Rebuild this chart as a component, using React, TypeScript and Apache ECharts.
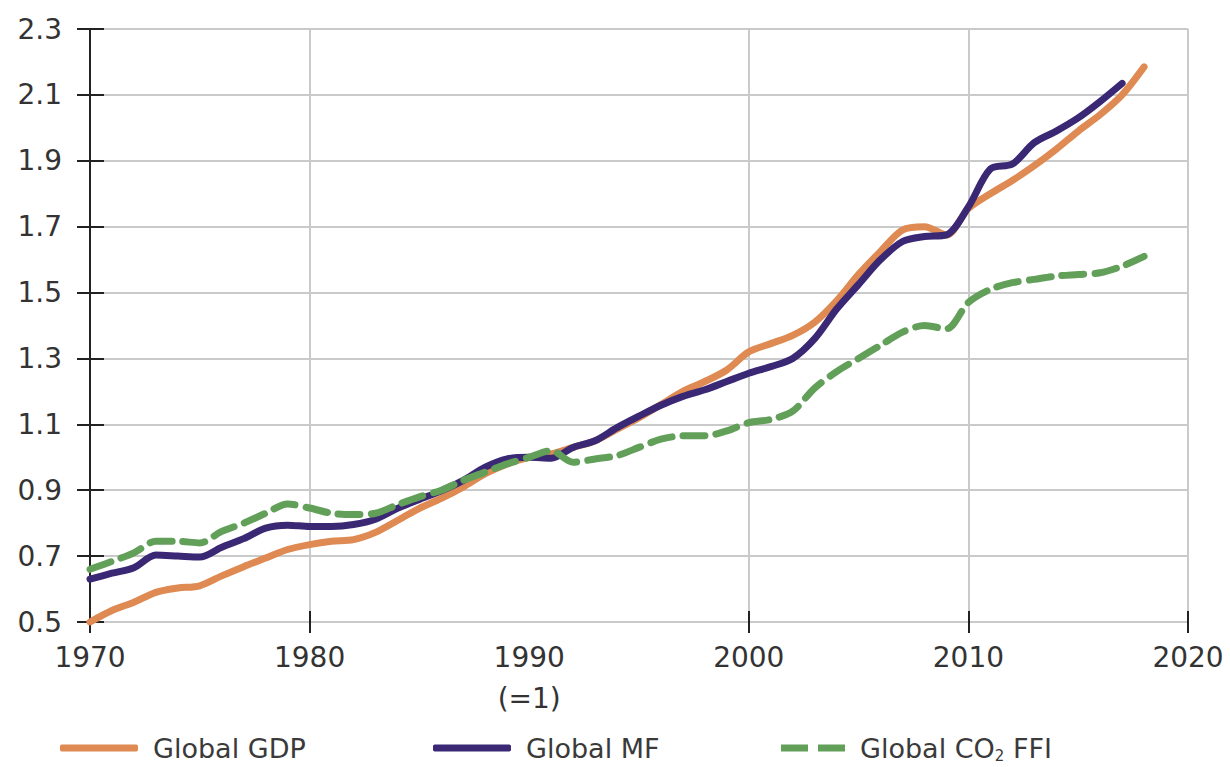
import React, { useEffect, useRef } from "react";
import * as echarts from "echarts";

const years: number[] = [
  1970, 1971, 1972, 1973, 1974, 1975, 1976, 1977, 1978, 1979,
  1980, 1981, 1982, 1983, 1984, 1985, 1986, 1987, 1988, 1989,
  1990, 1991, 1992, 1993, 1994, 1995, 1996, 1997, 1998, 1999,
  2000, 2001, 2002, 2003, 2004, 2005, 2006, 2007, 2008, 2009,
  2010, 2011, 2012, 2013, 2014, 2015, 2016, 2017, 2018,
];

const gdp: number[] = [
  0.5, 0.535, 0.56, 0.59, 0.603, 0.61, 0.64, 0.668, 0.694, 0.72,
  0.735, 0.745, 0.75, 0.772, 0.808, 0.845, 0.875, 0.91, 0.95, 0.98,
  1.0, 1.01, 1.03, 1.05, 1.085, 1.12, 1.16, 1.2, 1.23, 1.265,
  1.32, 1.345, 1.37, 1.41, 1.475, 1.555, 1.625, 1.69, 1.7, 1.675,
  1.755, 1.8, 1.84, 1.885, 1.935, 1.99, 2.04, 2.1, 2.185,
];

const mf: number[] = [
  0.63, 0.648, 0.665, 0.703, 0.7, 0.697, 0.727, 0.753, 0.785, 0.794,
  0.79, 0.79, 0.796, 0.812, 0.845, 0.872, 0.898, 0.93, 0.97, 0.995,
  1.0, 0.997, 1.03, 1.05, 1.09, 1.125, 1.158, 1.185, 1.205, 1.23,
  1.255, 1.275, 1.3, 1.36, 1.45, 1.525, 1.6, 1.655, 1.67, 1.675,
  1.76, 1.875, 1.89, 1.955, 1.99, 2.03, 2.08, 2.135,
];

const co2: number[] = [
  0.66, 0.684, 0.71, 0.745, 0.745, 0.74, 0.775, 0.8, 0.83, 0.858,
  0.846, 0.83, 0.826, 0.83, 0.856, 0.88, 0.9, 0.93, 0.955, 0.98,
  1.0, 1.02, 0.985, 0.995, 1.005, 1.03, 1.055, 1.065, 1.065, 1.08,
  1.105, 1.115, 1.14, 1.21, 1.26, 1.3, 1.34, 1.38, 1.4, 1.39,
  1.47, 1.51, 1.53, 1.54, 1.55, 1.555, 1.56, 1.58, 1.61,
];

const seriesNames: string[] = ["Global GDP", "Global MF", "Global CO2 FFI"];
const xTickValues: number[] = [1970, 1980, 2000, 2010, 2020];

const pairs = (vals: number[]) => vals.map((v, i) => [years[i], v]);

const COLORS = { gdp: "#de8a52", mf: "#3b2874", co2: "#62a05a" };

export default function App() {
  const ref = useRef<HTMLDivElement>(null);
  useEffect(() => {
    if (!ref.current) return;
    const chart = echarts.init(ref.current, null, { renderer: "svg" });
    const font = "'DejaVu Sans', Verdana, sans-serif";
    const gridColor = "#cacaca";
    const legendText = {
      fontFamily: font,
      fontSize: 27,
      lineHeight: 30,
      color: "#3a3a3a",
      padding: [0, 0, 0, 10],
      rich: {
        sub: {
          fontFamily: font,
          fontSize: 15,
          lineHeight: 30,
          color: "#3a3a3a",
          verticalAlign: "bottom",
          padding: [14, 0, 0, 0],
        },
      },
    };
    const legendFormatter = (name: string) =>
      name === "Global CO2 FFI" ? "Global CO{sub|2} FFI" : name;
    const mkLegend = (name: string, left: number, icon: string, w: number) => ({
      data: [{ name, icon }],
      left,
      top: 733,
      padding: 0,
      itemWidth: w,
      itemHeight: 7,
      itemStyle: { borderWidth: 0 },
      textStyle: legendText,
      formatter: legendFormatter,
    });
    const dashIcon = "path://M0,0 H27 V7 H0 Z M37,0 H64 V7 H37 Z";
    chart.setOption({
      animation: false,
      backgroundColor: "#ffffff",
      grid: { left: 90, right: 42, top: 29, bottom: 145, containLabel: false },
      legend: [
        mkLegend(seriesNames[0], 60, "roundRect", 78),
        mkLegend(seriesNames[1], 433, "roundRect", 78),
        mkLegend(seriesNames[2], 781, dashIcon, 64),
      ],
      xAxis: [
        {
          type: "value",
          min: 1970,
          max: 2020,
          interval: 10,
          axisLine: { show: true, onZero: false, lineStyle: { color: gridColor, width: 2 } },
          axisTick: {
            show: true,
            length: 11,
            customValues: xTickValues,
            lineStyle: { color: "#222", width: 2 },
          },
          axisLabel: {
            show: true,
            margin: 15,
            fontFamily: font,
            fontSize: 28,
            color: "#333",
            lineHeight: 41,
            verticalAlign: "top",
            formatter: (v: number) => (v === 1990 ? "1990\n(=1)" : String(v)),
          },
          splitLine: { show: true, lineStyle: { color: gridColor, width: 2 } },
        },
        {
          type: "value",
          min: 1970,
          max: 2020,
          interval: 10,
          position: "bottom",
          axisLine: { show: false },
          axisTick: {
            show: true,
            inside: true,
            length: 11,
            customValues: xTickValues,
            lineStyle: { color: "#222", width: 2 },
          },
          axisLabel: { show: false },
          splitLine: { show: false },
        },
      ],
      yAxis: [
        {
          type: "value",
          min: 0.5,
          max: 2.3,
          interval: 0.2,
          axisLine: { show: true, onZero: false, lineStyle: { color: "#222", width: 2 } },
          axisTick: { show: true, length: 13, lineStyle: { color: "#222", width: 2 } },
          axisLabel: {
            margin: 28,
            fontFamily: font,
            fontSize: 28,
            color: "#333",
            formatter: (v: number) => v.toFixed(1),
          },
          splitLine: { show: true, lineStyle: { color: gridColor, width: 2 } },
        },
        {
          type: "value",
          min: 0.5,
          max: 2.3,
          interval: 0.2,
          position: "left",
          axisLine: { show: false },
          axisTick: { show: true, inside: true, length: 14, lineStyle: { color: "#222", width: 2 } },
          axisLabel: { show: false },
          splitLine: { show: false },
        },
      ],
      series: [
        {
          name: seriesNames[0],
          type: "line",
          data: pairs(gdp),
          showSymbol: false,
          symbol: "none",
          smooth: 0.3,
          z: 3,
          lineStyle: { color: COLORS.gdp, width: 7, cap: "round", join: "round" },
          itemStyle: { color: COLORS.gdp },
        },
        {
          name: seriesNames[1],
          type: "line",
          data: pairs(mf),
          showSymbol: false,
          symbol: "none",
          smooth: 0.3,
          z: 4,
          lineStyle: { color: COLORS.mf, width: 7, cap: "round", join: "round" },
          itemStyle: { color: COLORS.mf },
        },
        {
          name: seriesNames[2],
          type: "line",
          data: pairs(co2),
          showSymbol: false,
          symbol: "none",
          smooth: 0.3,
          z: 5,
          lineStyle: { color: COLORS.co2, width: 7, type: [22, 11], cap: "round", join: "round" },
          itemStyle: { color: COLORS.co2 },
        },
      ],
    });
    return () => chart.dispose();
  }, []);
  return (
    <div
      ref={ref}
      style={{ position: "fixed", left: 0, top: 0, width: 1230, height: 767, background: "#fff" }}
    />
  );
}
